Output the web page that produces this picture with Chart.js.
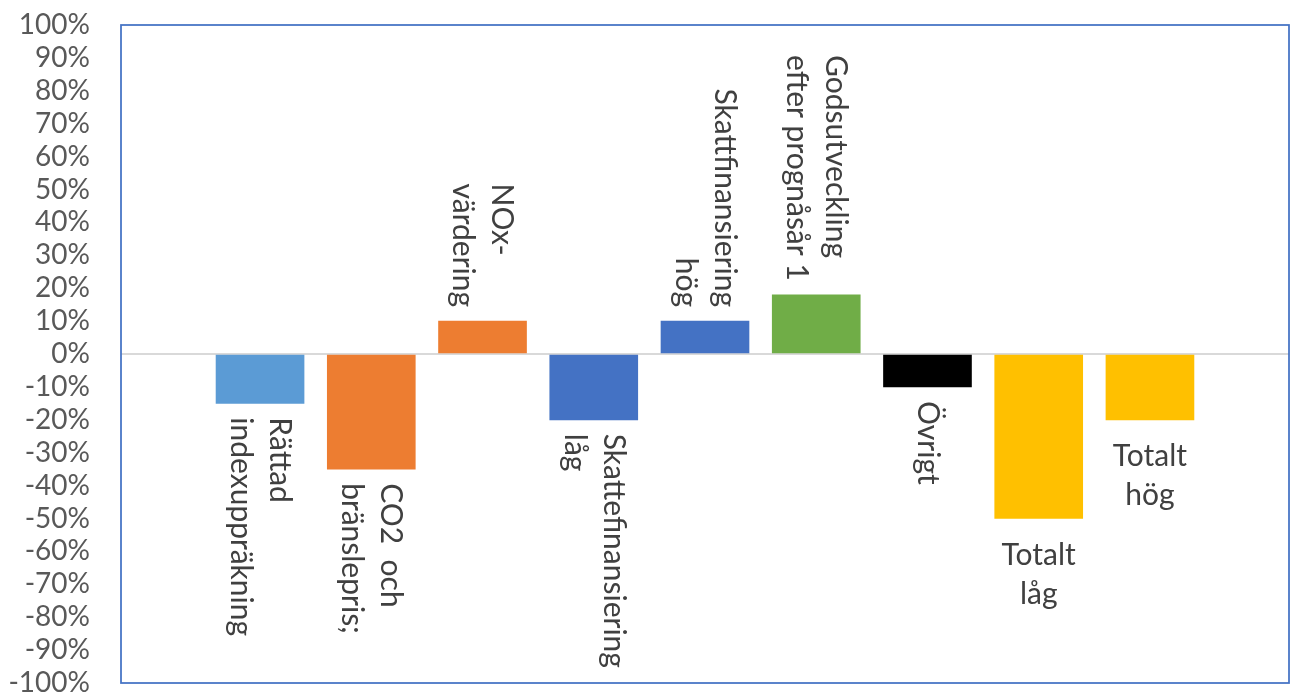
<!DOCTYPE html>
<html><head><meta charset="utf-8">
<script src="https://cdn.jsdelivr.net/npm/chart.js@4"></script>
<style>html,body{margin:0;padding:0;background:#fff;overflow:hidden}</style>
</head><body>
<canvas id="c" width="1290" height="693"></canvas>
<script>
const categories = [
  ['Rättad', 'indexuppräkning'],
  ['CO2  och', 'bränslepris;'],
  ['NOx-', 'värdering'],
  ['Skattefinansiering', 'låg'],
  ['Skattfinansiering', 'hög'],
  ['Godsutveckling', 'efter prognåsår 1'],
  ['Övrigt'],
  ['Totalt', 'låg'],
  ['Totalt', 'hög']
];
const values = [-15, -35, 10, -20, 10, 18, -10, -50, -20];
const barColors = ['#5B9BD5', '#ED7D31', '#ED7D31', '#4472C4', '#4472C4', '#70AD47', '#000000', '#FFC000', '#FFC000'];
const labelRotated = [true, true, true, true, true, true, true, false, false];
const labelAlign = ['start', 'start', 'start', 'start', 'end', 'start', 'start', 'center', 'center'];
const yMin = -100, yMax = 100, yStep = 10;

const FONT_FAMILY = 'Lato, "Open Sans", sans-serif';
const LABEL_SIZE = 30;
const TICK_SIZE = 28;
const LH = 39;
const GAP = 14;

const labelPlugin = {
  id: 'barLabels',
  afterDatasetsDraw(chart) {
    const ctx = chart.ctx;
    const meta = chart.getDatasetMeta(0);
    ctx.save();
    ctx.font = LABEL_SIZE + 'px ' + FONT_FAMILY;
    ctx.fillStyle = '#404040';
    meta.data.forEach((bar, i) => {
      const lines = categories[i];
      const n = lines.length;
      const neg = values[i] < 0;
      if (labelRotated[i]) {
        ctx.save();
        ctx.translate(bar.x, 0);
        ctx.rotate(Math.PI / 2);
        ctx.textBaseline = 'middle';
        const maxW = Math.max(...lines.map(l => ctx.measureText(l).width));
        lines.forEach((l, k) => {
          const ly = (k - (n - 1) / 2) * LH;
          let lx, align;
          if (neg) { lx = bar.y + GAP; align = 'left'; }
          else if (labelAlign[i] === 'end') { lx = bar.y - GAP; align = 'right'; }
          else { lx = bar.y - GAP - maxW; align = 'left'; }
          ctx.textAlign = align;
          ctx.fillText(l, lx, ly);
        });
        ctx.restore();
      } else {
        ctx.textAlign = 'center';
        ctx.textBaseline = 'alphabetic';
        lines.forEach((l, k) => {
          const y = neg ? bar.y + 46 + k * LH : bar.y - 20 - (n - 1 - k) * LH;
          ctx.fillText(l, bar.x, y);
        });
      }
    });
    ctx.restore();
  }
};

const borderPlugin = {
  id: 'plotBorder',
  afterDraw(chart) {
    const a = chart.chartArea;
    const ctx = chart.ctx;
    ctx.save();
    ctx.strokeStyle = '#4472C4';
    ctx.lineWidth = 1.75;
    ctx.strokeRect(a.left, a.top, a.right - a.left, a.bottom - a.top);
    ctx.restore();
  }
};

new Chart(document.getElementById('c'), {
  type: 'bar',
  data: {
    datasets: [{
      data: values.map((v, i) => ({ x: i, y: v })),
      backgroundColor: barColors,
      borderWidth: 0,
      barThickness: 88
    }]
  },
  options: {
    responsive: false,
    animation: false,
    layout: { padding: { left: 0, top: 25, right: 1, bottom: 10 } },
    plugins: { legend: { display: false }, tooltip: { enabled: false } },
    scales: {
      x: {
        type: 'linear',
        display: false,
        offset: false,
        bounds: 'data',
        min: -1.25,
        max: values.length - 1 + 1.25
      },
      y: {
        min: yMin, max: yMax,
        border: { display: false },
        grid: {
          drawTicks: false,
          lineWidth: 2,
          color: c => (c.tick && c.tick.value === 0) ? '#D9D9D9' : 'rgba(0,0,0,0)'
        },
        ticks: {
          stepSize: yStep,
          autoSkip: false,
          padding: 31,
          color: '#595959',
          font: { family: FONT_FAMILY, size: TICK_SIZE },
          callback: v => v + '%'
        },
        afterFit(scale) {
          scale.width = 121;
          scale.paddingTop = 0;
          scale.paddingBottom = 0;
        }
      }
    }
  },
  plugins: [labelPlugin, borderPlugin]
});
</script>
</body></html>
